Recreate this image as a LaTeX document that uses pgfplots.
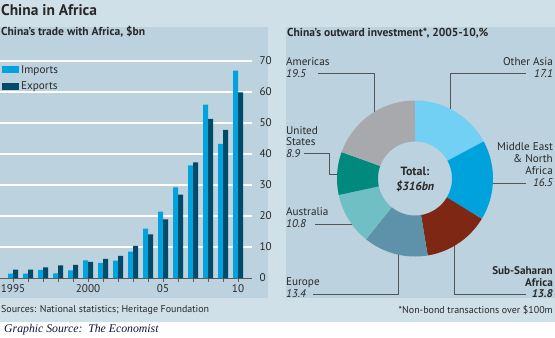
\documentclass[border=0pt]{standalone}
\usepackage{fontspec}
\setmainfont{PT Sans}
\newfontfamily\serifsrc{Liberation Serif}
\usepackage{pgfplots}
\usepackage{pgfplotstable}
\pgfplotsset{compat=1.18}

\definecolor{bgout}{RGB}{208,224,232}
\definecolor{bgpanel}{RGB}{188,210,222}
\definecolor{cImp}{RGB}{0,163,222}
\definecolor{cExp}{RGB}{0,74,106}
\definecolor{txt}{RGB}{40,40,40}
\definecolor{lead}{RGB}{85,85,85}
\definecolor{axgray}{RGB}{90,90,90}
\definecolor{cOA}{RGB}{114,208,244}
\definecolor{cME}{RGB}{0,162,221}
\definecolor{cSS}{RGB}{125,39,20}
\definecolor{cEU}{RGB}{94,145,170}
\definecolor{cAU}{RGB}{112,191,196}
\definecolor{cUS}{RGB}{0,138,126}
\definecolor{cAM}{RGB}{168,169,173}
\definecolor{srcblue}{RGB}{20,20,60}

\pgfplotstableread{
year imports exports
1995 1.4 2.7
1996 1.4 2.7
1997 2.6 3.4
1998 1.5 4.1
1999 2.5 4.2
2000 5.7 5.2
2001 4.9 6.2
2002 5.6 7.1
2003 8.5 10.4
2004 15.9 14.1
2005 21.4 18.9
2006 29.2 26.9
2007 36.3 37.3
2008 55.9 51.3
2009 43.3 47.8
2010 66.9 59.9
}\trade

% donut slice: colour, share in per cent (clockwise from 12 o'clock)
\gdef\cum{0}
\newcommand\slice[2]{%
  \pgfmathsetmacro\aEnd{90-3.6*\cum}%
  \pgfmathsetmacro\cumnew{\cum+#2}%
  \pgfmathsetmacro\aStart{90-3.6*\cumnew}%
  \edef\doplot{\noexpand\addplot[draw=#1, line width=41bp, domain=\aStart:\aEnd, samples=80, variable=\noexpand\t]
     ({57.5*cos(\noexpand\t)},{57.5*sin(\noexpand\t)});}%
  \doplot
  \global\let\cum\cumnew}

\newcommand\lab{\fontsize{11.2}{12}\selectfont}

\begin{document}
\begin{tikzpicture}
\useasboundingbox (0,0) rectangle (555bp,-338bp);
\fill[white] (0,0) rectangle (555bp,-338bp);
\fill[bgout] (0,0) rectangle (555bp,-322bp);
\fill[bgpanel] (0,-27bp) rectangle (268bp,-298bp);
\fill[bgpanel] (286bp,-27bp) rectangle (555bp,-298bp);

\begin{scope}[x=1bp,y=-1bp, every node/.style={inner sep=0pt, text=txt}]
  \node[anchor=west, font=\bfseries\fontsize{15.5}{17}\selectfont] at (1,10) {China in Africa};
  \node[anchor=west, font=\bfseries\fontsize{11.6}{13}\selectfont] at (1,32) {China’s trade with Africa, \$bn};
  \node[anchor=west, font=\bfseries\fontsize{11.6}{13}\selectfont] at (287,33) {China’s outward investment*, 2005-10,\%};
  \node[anchor=west, font=\fontsize{10}{11}\selectfont] at (1,310) {Sources: National statistics; Heritage Foundation};
  \node[anchor=east, font=\fontsize{10}{11}\selectfont] at (553,310) {*Non-bond transactions over \$100m};
  \node[anchor=west, font=\serifsrc\itshape\fontsize{11.8}{14}\selectfont, text=srcblue] at (4,330) {Graphic Source:\, The Economist};

  % leader lines
  \draw[lead, line width=0.8bp]
    (318,73.5) -- (374,73.5) -- (374,125)
    (526,73.5) -- (450,73.5) -- (450,120)
    (304,153.5) -- (329,153.5) -- (329,174) -- (350,174)
    (526,183) -- (480,183)
    (315,224) -- (360,224)
    (313,294) -- (398,294) -- (398,245)
    (526,294) -- (454,294) -- (454,235);

  % labels
  \node[anchor=west, font=\lab] at (286,61.5) {Americas};
  \node[anchor=west, font=\lab\itshape] at (286,73.5) {19.5};
  \node[anchor=east, font=\lab] at (553,61.5) {Other Asia};
  \node[anchor=east, font=\lab\itshape] at (553,73.5) {17.1};
  \node[anchor=west, font=\lab] at (286,130.5) {United};
  \node[anchor=west, font=\lab] at (286,142) {States};
  \node[anchor=west, font=\lab\itshape] at (286,153.5) {8.9};
  \node[anchor=east, font=\lab] at (553,147) {Middle East};
  \node[anchor=east, font=\lab] at (553,159) {\& North};
  \node[anchor=east, font=\lab] at (553,171) {Africa};
  \node[anchor=east, font=\lab\itshape] at (553,183) {16.5};
  \node[anchor=west, font=\lab] at (286,212) {Australia};
  \node[anchor=west, font=\lab\itshape] at (286,224) {10.8};
  \node[anchor=west, font=\lab] at (286,282.5) {Europe};
  \node[anchor=west, font=\lab\itshape] at (286,294) {13.4};
  \node[anchor=east, font=\lab\bfseries] at (553,270.5) {Sub-Saharan};
  \node[anchor=east, font=\lab\bfseries] at (553,282.5) {Africa};
  \node[anchor=east, font=\lab\bfseries\itshape] at (553,294) {13.8};
\end{scope}

% ---- bar chart ----
\begin{axis}[
  at={(0bp,-278bp)}, anchor=south west,
  scale only axis, width=252bp, height=217bp,
  xmin=1994.13, xmax=2010.93, ymin=0, ymax=70,
  ybar=0pt, bar width=5bp,
  axis line style={draw=none},
  xtick={1995,1996,...,2010},
  xticklabels={1995,,,,,2000,,,,,05,,,,,10},
  xtick pos=bottom, tick align=outside,
  major tick length=4bp,
  x tick style={draw=axgray, line width=0.7bp},
  ytick={10,20,...,70},
  extra y ticks={0},
  extra y tick style={major grid style={draw=axgray, line width=1bp}},
  ytick pos=right, yticklabel pos=right,
  y tick style={draw=none},
  ymajorgrids,
  major grid style={draw=white, line width=1.4bp},
  /pgf/number format/assume math mode=true,
  tick label style={font=\fontsize{11.2}{12}\selectfont, text=txt},
  yticklabel style={xshift=0bp},
  xticklabel style={yshift=1bp},
  legend style={at={(0,1)}, anchor=north west, xshift=2bp, yshift=-2bp,
    draw=none, fill=none, inner sep=0pt, row sep=3bp,
    font=\fontsize{11.2}{12}\selectfont, text=txt, cells={anchor=west}},
]
\addplot[fill=cImp, draw=none,
  legend image code/.code={\fill[cImp] (0bp,-3.5bp) rectangle (17bp,3.5bp);}]
  table[x=year, y=imports] {\trade};
\addplot[fill=cExp, draw=none,
  legend image code/.code={\fill[cExp] (0bp,-3.5bp) rectangle (17bp,3.5bp);}]
  table[x=year, y=exports] {\trade};
\legend{Imports, Exports}
\end{axis}

% ---- donut ----
\begin{axis}[
  at={(415bp,-178.5bp)}, anchor=center,
  x=1bp, y=1bp, xmin=-80, xmax=80, ymin=-80, ymax=80,
  hide axis, clip=false]
\slice{cOA}{17.1}
\slice{cME}{16.5}
\slice{cSS}{13.8}
\slice{cEU}{13.4}
\slice{cAU}{10.8}
\slice{cUS}{8.9}
\slice{cAM}{19.5}
\end{axis}

\begin{scope}[x=1bp,y=-1bp, every node/.style={inner sep=0pt, text=txt}]
  \node[font=\bfseries\fontsize{12}{13}\selectfont] at (415,171) {Total:};
  \node[font=\bfseries\itshape\fontsize{12}{13}\selectfont] at (415,186) {\$316bn};
\end{scope}
\end{tikzpicture}
\end{document}
